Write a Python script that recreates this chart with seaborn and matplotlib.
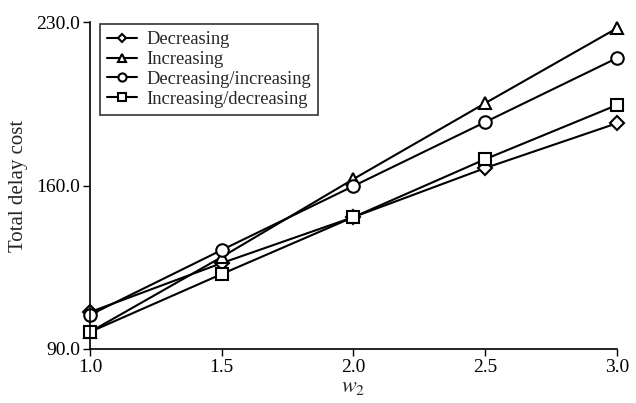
import pandas as pd
import matplotlib
matplotlib.use("Agg")
import matplotlib.pyplot as plt
import seaborn as sns

# data
w2 = [1.0, 1.5, 2.0, 2.5, 3.0]
decreasing = [105.8, 126.8, 146.5, 167.5, 186.7]
increasing = [97.3, 129.4, 162.8, 195.3, 227.4]
dec_inc = [104.6, 132.4, 159.8, 187.2, 214.6]
inc_dec = [97.3, 122.1, 146.5, 171.3, 194.5]

series = ["Decreasing", "Increasing", "Decreasing/increasing", "Increasing/decreasing"]
values = [decreasing, increasing, dec_inc, inc_dec]
markers = ["D", "^", "o", "s"]
msizes = [7, 9, 9, 9]

sns.set_style("ticks")
plt.rcParams["font.family"] = ["Liberation Serif", "DejaVu Serif"]
plt.rcParams["mathtext.fontset"] = "stix"

fig = plt.figure(figsize=(6.36, 4.03), dpi=100)
ax = fig.add_axes([0.1415, 0.134, 0.8285, 0.811])

for name, vals, m, ms in zip(series, values, markers, msizes):
    df = pd.DataFrame({"w2": w2, "cost": vals})
    sns.lineplot(data=df, x="w2", y="cost", ax=ax, color="black", marker=m,
                 markersize=ms, markerfacecolor="white", markeredgecolor="black",
                 markeredgewidth=1.5, linewidth=1.5, label=name, clip_on=False)

ax.set_xlim(1.0, 3.0)
ax.set_ylim(90, 230)
ax.set_xticks([1.0, 1.5, 2.0, 2.5, 3.0])
ax.set_xticklabels(["1.0", "1.5", "2.0", "2.5", "3.0"])
ax.set_yticks([90, 160, 230])
ax.set_yticklabels(["90.0", "160.0", "230.0"])
ax.tick_params(labelsize=14, direction="out", length=5, width=1, colors="black", pad=2)
ax.set_xlabel("$w_2$", fontsize=16, labelpad=2)
ax.set_ylabel("Total delay cost", fontsize=15, labelpad=6)
for s in ["top", "right"]:
    ax.spines[s].set_visible(False)
for s in ["left", "bottom"]:
    ax.spines[s].set_linewidth(1.2)
    ax.spines[s].set_color("black")

leg = ax.legend(loc="upper left", bbox_to_anchor=(0.015, 1.0), fontsize=13.3,
                frameon=True, fancybox=False, edgecolor="black",
                handlelength=1.6, borderpad=0.4, labelspacing=0.15,
                handletextpad=0.5, markerscale=0.65, borderaxespad=0.1)
leg.get_frame().set_linewidth(1.2)

fig.savefig("out.png", dpi=100)
